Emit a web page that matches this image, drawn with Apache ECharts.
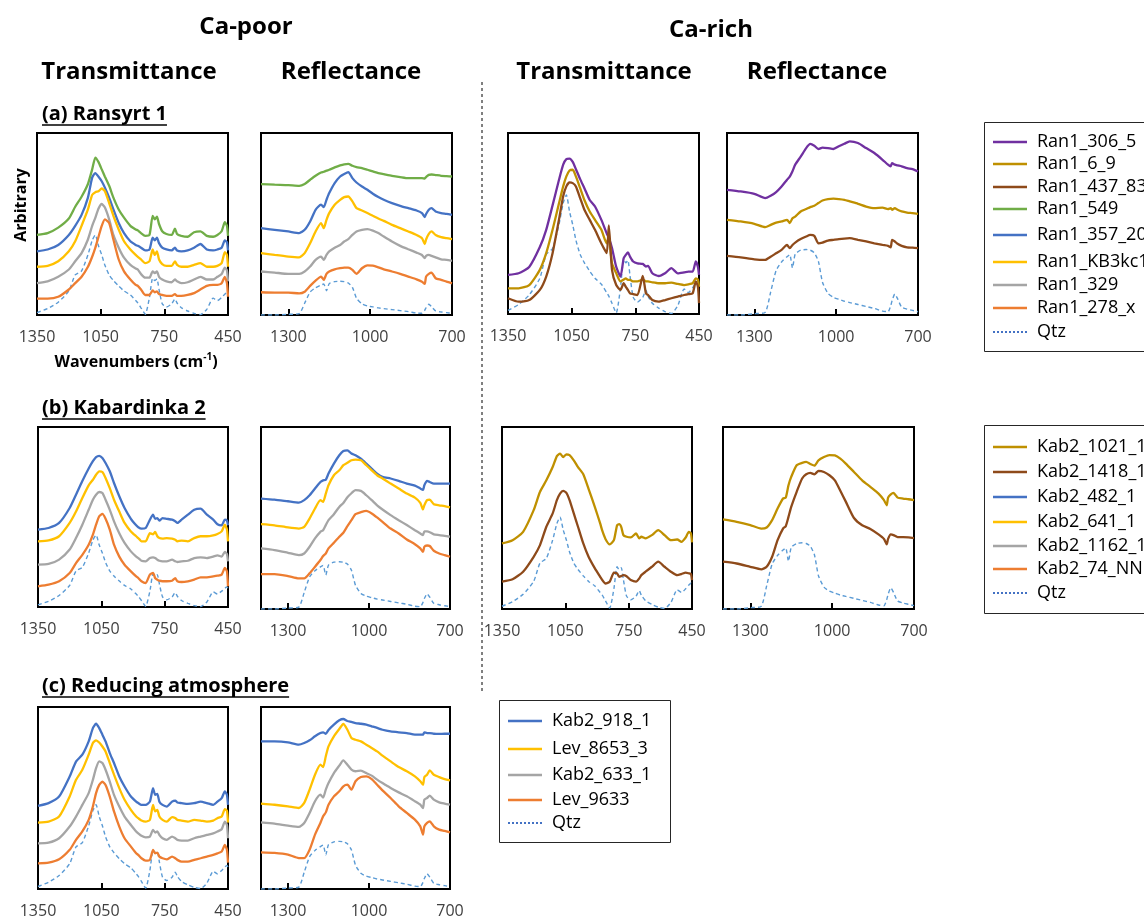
<!DOCTYPE html>
<html>
<head>
<meta charset="utf-8">
<script src="https://cdn.jsdelivr.net/npm/echarts@6/dist/echarts.min.js"></script>
<style>
html,body{margin:0;padding:0;background:#fff}
#c{width:1144px;height:923px}
</style>
</head>
<body>
<div id="c"></div>
<script>
// Wavenumber sampling (cm-1) for transmittance and reflectance spectra
const TRANS_WN = [1350,1300,1250,1200,1170,1140,1110,1090,1075,1060,1045,1030,1010,990,965,940,910,885,875,860,840,820,805,795,785,775,760,740,715,700,690,670,640,610,580,550,520,500,480,465,455,450];
const REFL_WN = [1400,1350,1300,1260,1240,1220,1200,1180,1170,1160,1150,1130,1110,1095,1080,1065,1050,1030,1010,990,970,950,920,890,860,830,810,800,795,785,775,760,740,720,700];
const TRANS_TICKS = [1350, 1050, 750, 450];
const REFL_TICKS = [1300, 1000, 700];

// Quartz reference (normalised to its main band)
const QTZ_T = [3,8,16,30,50,55,75,93,100,86,75,62,50,43,36,30,25,18,15,9,1,22,46,43,45,32,14,10,14,20,15,9,5,2,0.5,7,21,18,22,26,28,26];
const QTZ_R = [0,0,2,4,35,68,81,89,92,72,93,99,100,99,95,82,50,33,27,24,21,19,16,13,10,6,5,14,22,32,25,12,9,7,5];

// (a) Ransyrt 1 — transmittance, Ca-poor
const RAN1_549_T = [44,45,48,53,59.5,65,72,80,86.5,84,80,76,71,64.5,58,53.5,49,47,46.5,45,43.5,44,54.5,52.5,54,50,46,44.5,44,47.5,44.5,43.5,43,45.5,46,43.5,43,44,46,51,49,43.5];
const RAN1_357_T = [35,36,38.5,44,49,55,64.5,75.5,78,76,73.5,70,64.5,58,50.5,45,40.5,38.5,38,37,35.5,36,42.5,41,42.5,39.5,37,36,35.5,37,35.5,35,35.5,37,39,36,35.5,36,37,41,40,35.5];
const RAN1_KB3_T = [26.5,27,29.5,35,40.5,49,58,66,67.5,68,69.5,68,61.5,54.5,47,40.5,36,33,32,30.5,28.5,29.5,36,33,35,30.5,28,27,27,29.5,27.5,26.5,26.5,27.5,28.5,26.5,26.5,27,28.5,34.5,33,26.5];
const RAN1_329_T = [17.5,18.5,21,25,29.5,34,41.5,49,53.5,58.5,61,59,52.5,44,37,31.5,27.5,25.5,25,22.5,20.5,20.5,24,23,24,21,19.5,18.5,18,19.5,18.5,17.5,18,19.5,21,19.5,19.5,21,22.5,26,24.5,18.5];
const RAN1_278_T = [9,9,10,14,17.5,21,26.5,32,37,43,49,52.5,50.5,41.5,30.5,24,19.5,16.5,16,14,11,11,13.5,12.5,13,11.5,11,10.5,10.5,11.5,10.5,10.5,11,12,14,16,16.5,16.5,17.5,21,17.5,10];
// (a) Ransyrt 1 — transmittance, Ca-rich
const RAN1_306_T = [21.6,22.5,26,37,46.5,60,74,82.5,85.6,85.8,84,80,74.5,69.5,63,59.4,52,44.6,42,36.5,26,20.7,30.8,32.7,34,31.7,29,28,27.7,26.2,26.6,22.5,21,22.5,25.3,22.5,23,23.4,23.4,29,26,21.6];
const RAN1_6_T = [14.2,14.2,16,24.4,33.6,46.5,61,70.5,76,79.3,79.7,76,69.5,63,56.6,52,46.5,39,42.8,28,22.5,18,19,19.7,18.8,18.8,18,18,19,18,18,17.5,17,17,17.3,16.6,16,16.4,17,19.7,19,15];
const RAN1_437_T = [8.7,6.8,7.7,13.3,20.7,33.6,52,65,70.5,72.7,72.3,70.5,64,57.6,52,46.5,39,33.6,49,24.4,16,13.3,17,15,13.3,11.4,11,10.5,21,11.4,10.5,7.7,6.8,7.7,8.7,9.6,10.5,11,11.4,18,15,6];
// (a) Ransyrt 1 — reflectance, Ca-poor
const RAN1_549_R = [71.9,71.6,71.4,71,72,74.3,76.5,78.3,78.7,79.3,79.8,81.1,82.2,82.8,83,82,81.3,80.7,79.8,78.9,78,77.4,76.5,75.8,75.2,75.2,75.2,75,75.8,77,77.2,76.9,76.5,76.3,76.1];
const RAN1_357_R = [47.7,46.8,45.9,45,46.8,51.4,57.8,60.6,59.3,63.3,67,72.5,76.1,77.5,78.5,75.2,72.8,70.6,68.8,66.6,64.8,63.3,61.5,60,58.7,57.4,56,53.8,55.5,57.8,58.7,56.9,56,55.6,55];
const RAN1_KB3_R = [34,33,32.1,31.7,34,39.4,45.9,50.5,47.7,52.3,56,60.6,63.3,64.8,65.1,62.4,58.7,57.4,56,54.5,53,51.7,49.5,47.7,45.9,44,42.2,39,41.5,44.6,45.9,44,42.8,42.2,41.7];
const RAN1_329_R = [23.9,23.3,22.6,22.6,23.9,26.6,30.3,32.1,30.3,33,34.9,37,38.5,40.4,41.7,44,45.9,46.8,47.2,46.4,45,43.1,40.4,38,36.1,34.3,33,31.2,32.5,33,32.5,31.7,30.6,30.3,29.7];
const RAN1_278_R = [12.5,12.3,12.3,11.9,12.8,16,18.9,21.1,19.3,22.6,23.9,25.1,25.7,26,26,24.8,22.6,25.7,27.3,27.1,26.2,25.1,23.9,22.6,21.1,19.6,18.3,17.1,21.1,22.6,23.3,20.2,19.3,18.3,17.4];
// (a) Ransyrt 1 — reflectance, Ca-rich
const RAN1_306_R = [68.8,67.9,66.6,64.2,65.5,67.5,70.6,74.3,76,79,82.6,87,91.7,94,93,91.2,92,91.7,91.2,92.7,94.1,95.4,94.5,91.7,89,85.3,82.6,81.7,83.5,82.6,82.2,81.7,80.7,80.2,78.9];
const RAN1_6_R = [52.3,51.4,50.1,48.3,49.5,50.8,51.4,52.3,50.5,53.2,54.1,56.9,58.2,59.3,60,61.5,62.9,63.7,63.9,63.7,63.3,62.4,61.1,59.6,58.7,59,58.2,58.7,57.8,58.7,57.8,56.9,56.3,56,55.6];
const RAN1_437_R = [32.5,31.7,30.6,30.3,32,33.9,35.8,38.5,36.7,38.5,39.8,41.7,43.1,44,43.5,39.4,39.8,40.9,41.3,41.7,42,42.2,41.3,40.4,39.4,38.5,38,37.2,41.3,40.4,39.1,38,37.2,37,36.7];

// (b) Kabardinka 2 — transmittance
const KAB2_482_T = [43,43.9,46.7,55,62.4,70,76.9,81,83.3,84,82.8,80,75.4,68.9,61.5,55,49,45.4,44.3,43.5,43.9,48.5,51.3,49,49.4,48,49.4,49,48.5,47.6,46.7,48.5,51.3,54,54.6,51.3,48.5,46,45.4,48.5,48,45.4];
const KAB2_641_T = [36.5,37,39.3,46.7,53,60.6,67.6,70.7,73.5,75.4,75,71.7,66,59.6,53,46.7,42,39.3,38.3,36.5,36.5,41,40.4,41.7,39.3,38.3,38,38.3,38,37.4,36.5,36.9,36.5,38.3,39.3,39.3,39.8,40.6,42,45.7,43,36.5];
const KAB2_1162_T = [23.5,23.9,26.3,31.9,38.3,45.7,54,59.6,62.4,63.9,63.3,59.6,54,47.6,41,35.6,30.9,28,27.2,25.7,25.4,27.2,27.6,27.2,26.3,25.7,25.4,25.4,26.3,25.4,25,25.4,25.7,27.2,27.6,27.2,28,28.7,28,30.6,29.4,25.4];
const KAB2_74_T = [11.5,12.4,14.3,18.9,24.4,29,34.6,40.2,45.7,50.4,51.7,49,43,34.6,28,23.5,19.8,17,16.1,14.3,13.3,18,18.9,16,15.2,14.6,14.3,14.3,14.6,16,14.3,13.9,14.3,15.2,16.5,16.5,17,17.4,18,21.7,19.8,11.5];
const KAB2_1021_T = [36,37.8,42.4,54.3,64.4,70.7,78,84,85.4,83.5,85,84.5,81.7,78,74,66,56,47,43,38.5,35.5,37.8,46,46.6,45,40.6,39.7,39.3,41.5,38.8,39.7,38.8,40.6,43.3,40.6,37.8,38.2,36.9,39.3,42.4,41.5,36.6];
const KAB2_1418_T = [15,16.3,20.5,28.7,35.1,45.2,52.5,59.8,63.4,64.9,63.8,59.8,52.5,45.2,36,28.7,22.3,17.7,15.9,14,15,20,19.6,17.7,18.1,18.6,18,15.9,15,16.8,18.6,20.5,23.2,26,23.2,20.5,18.6,19.2,20,19.6,19.2,15.9];
// (b) Kabardinka 2 — reflectance
const KAB2_482_R = [60.7,60.1,59.2,58.5,59.8,62.5,66.2,69.8,70.7,71,74.4,79.9,84.5,86.8,87.2,85.4,84.5,82.6,79.9,77.1,74.4,72.6,71.7,70.4,68.9,67.8,66.2,65.5,68,70.4,69.8,68.9,68.9,68.9,68.9];
const KAB2_641_R = [46.6,46,44.8,44.2,45.1,49.7,55.2,59.8,58.9,63.4,68,73.5,76.2,79,80.3,81.7,82.1,81.7,79,76.2,73.5,71.7,68.9,66.2,63.4,61.2,58.3,54.7,57,59.8,60.1,57.6,57,56.5,55.8];
const KAB2_1162_R = [33.3,32.4,30.9,29.6,30.5,34.2,38.8,42.4,43.3,46.1,48.8,52.1,56.1,58.3,61.4,63.6,65.3,64.9,62.5,59.8,57,54.7,51.6,48.8,46.1,43.3,41.5,40.6,42.6,42.6,42.2,41,40.6,40.2,39.7];
const KAB2_74_R = [19.2,19.2,18.1,16.8,16.8,19.6,23.2,26.9,29.1,30.5,33.3,36.4,39.7,41.9,45.5,48.8,52.1,53.2,53.9,52.5,50.3,47.9,44.2,41.5,38.2,35.6,33.3,31.4,34.2,34.9,34.6,32,30.5,29.6,28.7];
const KAB2_1021_R = [49.2,47.9,46.1,44.2,44.8,48.8,55.2,60.7,61.2,68,72.6,79,80.3,80.8,79.7,78.8,81.7,83.5,84.6,84.4,82.6,79.9,75.3,70.7,67.1,63.4,59.8,57,61.2,63,63.8,61.2,60.7,60.3,59.8];
const KAB2_1418_R = [26,25,23.2,21.8,23.2,28.7,37.8,44.2,45.5,50.6,56.1,64.4,71.7,74,74.8,74,75.9,75.3,73.5,70.7,65,59,50,46,44,41,38.5,35.5,38.5,41,40.6,39.5,39.5,39.3,39];

// (c) Reducing atmosphere — transmittance
const KAB2_918_T = [45.7,47.2,50.8,61.8,70,73.8,81.1,88.4,90.8,88.4,84.8,81.1,74.7,69.2,61.8,56.3,50.8,48,47.2,46.2,46.2,48,55.4,51.7,52.3,48,46.2,45.3,48,48.6,47.5,47.2,46.8,47.2,48,47.2,46.2,48,49.9,53.6,51.7,46.2];
const LEV_8653_T = [36.5,37,39.8,50.8,60,65.5,73.8,80.2,81.7,80.5,78.3,75.6,69.2,62.8,55.4,49,43.5,39.8,38.9,37.6,37,38,46.2,42.6,43.5,39.8,38,37,39.5,39,38,37.6,37,38,37.6,37,37.6,38.9,39.8,43.9,43,36.5];
const KAB2_633_T = [25.1,25.5,27.9,34.3,39.8,46.2,52.7,60,66.4,70.1,69.2,65.5,59,51.7,45.3,39.8,35.2,31.6,30.6,29.2,28.4,28.8,32.5,31,31.6,29.7,27.9,27,28.8,27.9,27,26.6,26.6,27.9,28.8,29.7,30.6,31.6,32.8,37,35.2,27.9];
const LEV_9633_T = [14.1,14.5,16.3,21.5,27,31.6,38,45.3,52.7,57.2,59,57.2,50.8,42.6,34.3,27.9,23.3,19.6,18.7,16.9,15.6,16,21.5,19.6,20,17.8,16.9,16.3,17.8,16.9,16,15,15,16,16.9,17.8,18.7,19.6,20.6,24.2,21.5,14.5];
// (c) Reducing atmosphere — reflectance
const KAB2_918_R = [81.1,81.1,80.6,79.3,80.2,81.7,83.9,85.7,86.1,85.3,87.4,90.3,92.7,93.4,92.3,91.8,91.2,90.8,90.3,89.4,88.5,87.5,86.6,86.1,85.7,84.8,84.8,84.8,86.1,85.7,85.7,85.3,85.2,85.3,85.3];
const LEV_8653_R = [46.9,46.3,45.4,44.5,47.3,54.6,62.8,68.3,67,72.9,78.4,83.9,87.9,90.7,87.5,83,82,81.1,79.3,77.5,75.6,73.3,70.1,67,64.7,61.9,59.2,57.3,61.5,62.8,65.2,62.8,61.5,60.4,59.7];
const KAB2_633_R = [36.6,35.9,34.8,34.1,36.3,41.8,48.2,51.8,50.2,54.6,58.2,63.7,67.8,70.7,68.3,65.6,64.7,65,63.7,62.3,60.1,58.2,55.5,53.1,50.9,48.2,46.3,44.5,49.1,50,51.3,49.1,47.6,46.9,46.3];
const LEV_9633_R = [20.1,19.8,18.9,17,17,21.6,29.9,36.3,39.9,42.1,46.3,50.9,53.7,56.4,57.3,54.6,59.2,61.5,61.9,60.4,57.3,54.2,50,45.4,41.8,38.1,34.4,29.9,34.4,36.3,37.2,34.4,32.6,31.9,31.1];

// Line colours per sample
const COLORS = {
  'Ran1_306_5': '#7030A0', 'Ran1_6_9': '#BF9000', 'Ran1_437_83': '#8E4A1A',
  'Ran1_549': '#70AD47', 'Ran1_357_20': '#4472C4', 'Ran1_KB3kc1': '#FFC000',
  'Ran1_329': '#A5A5A5', 'Ran1_278_x': '#ED7D31',
  'Kab2_1021_1': '#BF9000', 'Kab2_1418_1': '#8E4A1A', 'Kab2_482_1': '#4472C4',
  'Kab2_641_1': '#FFC000', 'Kab2_1162_1': '#A5A5A5', 'Kab2_74_NN': '#ED7D31',
  'Kab2_918_1': '#4472C4', 'Lev_8653_3': '#FFC000', 'Kab2_633_1': '#A5A5A5', 'Lev_9633': '#ED7D31'
};
const QTZ_COLOR = '#5B9BD5';
const QTZ_LEGEND_COLOR = '#4472C4';

// Panel layout: plot box [left, top, width, height], measurement mode, quartz axis ceiling
const PANELS = [
  {box:[37,133,191,182], mode:'T', qtzMax:227, lines:[['Ran1_549',RAN1_549_T],['Ran1_357_20',RAN1_357_T],['Ran1_KB3kc1',RAN1_KB3_T],['Ran1_329',RAN1_329_T],['Ran1_278_x',RAN1_278_T]]},
  {box:[261,133,191,182], mode:'R', qtzMax:540, lines:[['Ran1_549',RAN1_549_R],['Ran1_357_20',RAN1_357_R],['Ran1_KB3kc1',RAN1_KB3_R],['Ran1_329',RAN1_329_R],['Ran1_278_x',RAN1_278_R]]},
  {box:[508,133,191,181], mode:'T', qtzMax:152, lines:[['Ran1_306_5',RAN1_306_T],['Ran1_6_9',RAN1_6_T],['Ran1_437_83',RAN1_437_T]]},
  {box:[727,133,191,182], mode:'R', qtzMax:278, lines:[['Ran1_306_5',RAN1_306_R],['Ran1_6_9',RAN1_6_R],['Ran1_437_83',RAN1_437_R]]},
  {box:[38,427,190,180], mode:'T', qtzMax:250, lines:[['Kab2_482_1',KAB2_482_T],['Kab2_641_1',KAB2_641_T],['Kab2_1162_1',KAB2_1162_T],['Kab2_74_NN',KAB2_74_T]]},
  {box:[261,427,189,182], mode:'R', qtzMax:385, lines:[['Kab2_482_1',KAB2_482_R],['Kab2_641_1',KAB2_641_R],['Kab2_1162_1',KAB2_1162_R],['Kab2_74_NN',KAB2_74_R]]},
  {box:[502,427,190,182], mode:'T', qtzMax:198, lines:[['Kab2_1021_1',KAB2_1021_T],['Kab2_1418_1',KAB2_1418_T]]},
  {box:[723,427,191,182], mode:'R', qtzMax:275, lines:[['Kab2_1021_1',KAB2_1021_R],['Kab2_1418_1',KAB2_1418_R]]},
  {box:[38,707,190,182], mode:'T', qtzMax:216, lines:[['Kab2_918_1',KAB2_918_T],['Lev_8653_3',LEV_8653_T],['Kab2_633_1',KAB2_633_T],['Lev_9633',LEV_9633_T]]},
  {box:[261,707,189,182], mode:'R', qtzMax:382, lines:[['Kab2_918_1',KAB2_918_R],['Lev_8653_3',LEV_8653_R],['Kab2_633_1',KAB2_633_R],['Lev_9633',LEV_9633_R]]}
];

// Legend entries (order as listed in each key)
const LEGEND_A = ['Ran1_306_5','Ran1_6_9','Ran1_437_83','Ran1_549','Ran1_357_20','Ran1_KB3kc1','Ran1_329','Ran1_278_x','Qtz'];
const LEGEND_B = ['Kab2_1021_1','Kab2_1418_1','Kab2_482_1','Kab2_641_1','Kab2_1162_1','Kab2_74_NN','Qtz'];
const LEGEND_C = ['Kab2_918_1','Lev_8653_3','Kab2_633_1','Lev_9633','Qtz'];

const FONT = '"Open Sans", "Liberation Sans", sans-serif';

const grids = [], xAxes = [], yAxes = [], series = [];
PANELS.forEach((p, i) => {
  const isT = p.mode === 'T';
  const wn = isT ? TRANS_WN : REFL_WN;
  const ticks = isT ? TRANS_TICKS : REFL_TICKS;
  grids.push({
    left: p.box[0], top: p.box[1], width: p.box[2], height: p.box[3],
    show: true, borderColor: '#000', borderWidth: 2, backgroundColor: 'transparent',
    containLabel: false, outerBoundsMode: 'none'
  });
  xAxes.push({
    gridIndex: i, type: 'value', inverse: true,
    min: isT ? 450 : 700, max: isT ? 1350 : 1400,
    axisLine: {show: false}, splitLine: {show: false},
    axisTick: {show: true, inside: true, length: 6, customValues: ticks, lineStyle: {color: '#000', width: 2}},
    axisLabel: {customValues: ticks, margin: 14, fontSize: 16, fontFamily: FONT, color: '#404040', formatter: v => String(v)}
  });
  yAxes.push({gridIndex: i, type: 'value', min: 0, max: 100, show: false});
  yAxes.push({gridIndex: i, type: 'value', min: 0, max: p.qtzMax, show: false});
  p.lines.forEach(([name, ys]) => {
    series.push({
      type: 'line', name, xAxisIndex: i, yAxisIndex: 2 * i,
      data: wn.map((w, k) => [w, ys[k]]),
      showSymbol: false, symbol: 'none', smooth: 0.2, silent: true,
      lineStyle: {color: COLORS[name], width: 2.3}, itemStyle: {color: COLORS[name]}
    });
  });
  const q = isT ? QTZ_T : QTZ_R;
  series.push({
    type: 'line', name: 'Qtz', xAxisIndex: i, yAxisIndex: 2 * i + 1,
    data: wn.map((w, k) => [w, q[k]]),
    showSymbol: false, symbol: 'none', smooth: 0.2, silent: true, z: 1,
    lineStyle: {color: QTZ_COLOR, width: 1.4, type: [4, 3]}, itemStyle: {color: QTZ_COLOR}
  });
});

// Text measuring for underlines
const measureCtx = document.createElement('canvas').getContext('2d');
function textWidth(str, font) { measureCtx.font = font; return measureCtx.measureText(str).width; }

const graphics = [];
function addText(str, x, y, font, align, extra) {
  graphics.push(Object.assign({
    type: 'text', x, y, silent: true,
    style: {text: str, font, fill: '#000', textAlign: align || 'center', textVerticalAlign: 'middle', align: align || 'center', verticalAlign: 'middle'}
  }, extra || {}));
}
const HEAD = 'bold 24px ' + FONT;
addText('Ca-poor', 246, 27, HEAD);
addText('Ca-rich', 711, 30, HEAD);
addText('Transmittance', 129, 72, HEAD);
addText('Reflectance', 351, 72, HEAD);
addText('Transmittance', 604, 72, HEAD);
addText('Reflectance', 817, 72, HEAD);

// Section labels with underline
const SEC = 'bold 20px ' + FONT;
[['(a) Ransyrt 1', 114], ['(b) Kabardinka 2', 408], ['(c) Reducing atmosphere', 686]].forEach(([t, y]) => {
  addText(t, 42, y, SEC, 'left');
  const w = textWidth(t, SEC);
  graphics.push({type: 'line', silent: true, shape: {x1: 42, y1: y + 11, x2: 42 + w, y2: y + 11}, style: {stroke: '#000', lineWidth: 1.5}});
});

// Axis titles
addText('Arbitrary', 21, 205, 'bold 16px ' + FONT, 'center', {rotation: Math.PI / 2});
graphics.push({
  type: 'text', x: 136, y: 362, silent: true,
  style: {
    text: '{b|Wavenumbers (cm}{s|-1}{b|)}',
    textAlign: 'center', textVerticalAlign: 'middle', align: 'center', verticalAlign: 'middle',
    rich: {
      b: {fontSize: 16, fontWeight: 'bold', fontFamily: FONT, fill: '#000', lineHeight: 20, verticalAlign: 'middle'},
      s: {fontSize: 10, fontWeight: 'bold', fontFamily: FONT, fill: '#000', lineHeight: 20, verticalAlign: 'top'}
    }
  }
});

// Divider between Ca-poor and Ca-rich columns
graphics.push({type: 'line', silent: true, shape: {x1: 482, y1: 82, x2: 482, y2: 692}, style: {stroke: '#000', lineWidth: 1, lineDash: [3, 3]}});

// Legend boxes
function addLegend(names, box, rowsY, lineX, textX) {
  graphics.push({type: 'rect', silent: true, shape: {x: box[0], y: box[1], width: box[2], height: box[3]}, style: {fill: '#fff', stroke: '#262626', lineWidth: 1}});
  names.forEach((n, k) => {
    const y = rowsY[k];
    const isQ = n === 'Qtz';
    graphics.push({type: 'line', silent: true, shape: {x1: lineX[0], y1: y, x2: lineX[1], y2: y},
      style: isQ ? {stroke: QTZ_LEGEND_COLOR, lineWidth: 2, lineDash: [2, 2]} : {stroke: COLORS[n], lineWidth: 2.5}});
    addText(n, textX, y, '18px ' + FONT, 'left');
  });
}
addLegend(LEGEND_A, [984.5, 122.5, 240, 229], [142,164,187,209,235,262,285,308,332], [993, 1027], 1037);
addLegend(LEGEND_B, [984.5, 425.5, 240, 188], [447,472,497,522,546,569,593], [993, 1027], 1037);
addLegend(LEGEND_C, [499.5, 700.5, 171, 142], [721,749,775,800,823], [508, 542], 552);

const chart = echarts.init(document.getElementById('c'), null, {renderer: 'canvas', width: 1144, height: 923});
chart.setOption({
  animation: false,
  backgroundColor: '#fff',
  grid: grids,
  xAxis: xAxes,
  yAxis: yAxes,
  series,
  graphic: {elements: graphics}
});
</script>
</body>
</html>
